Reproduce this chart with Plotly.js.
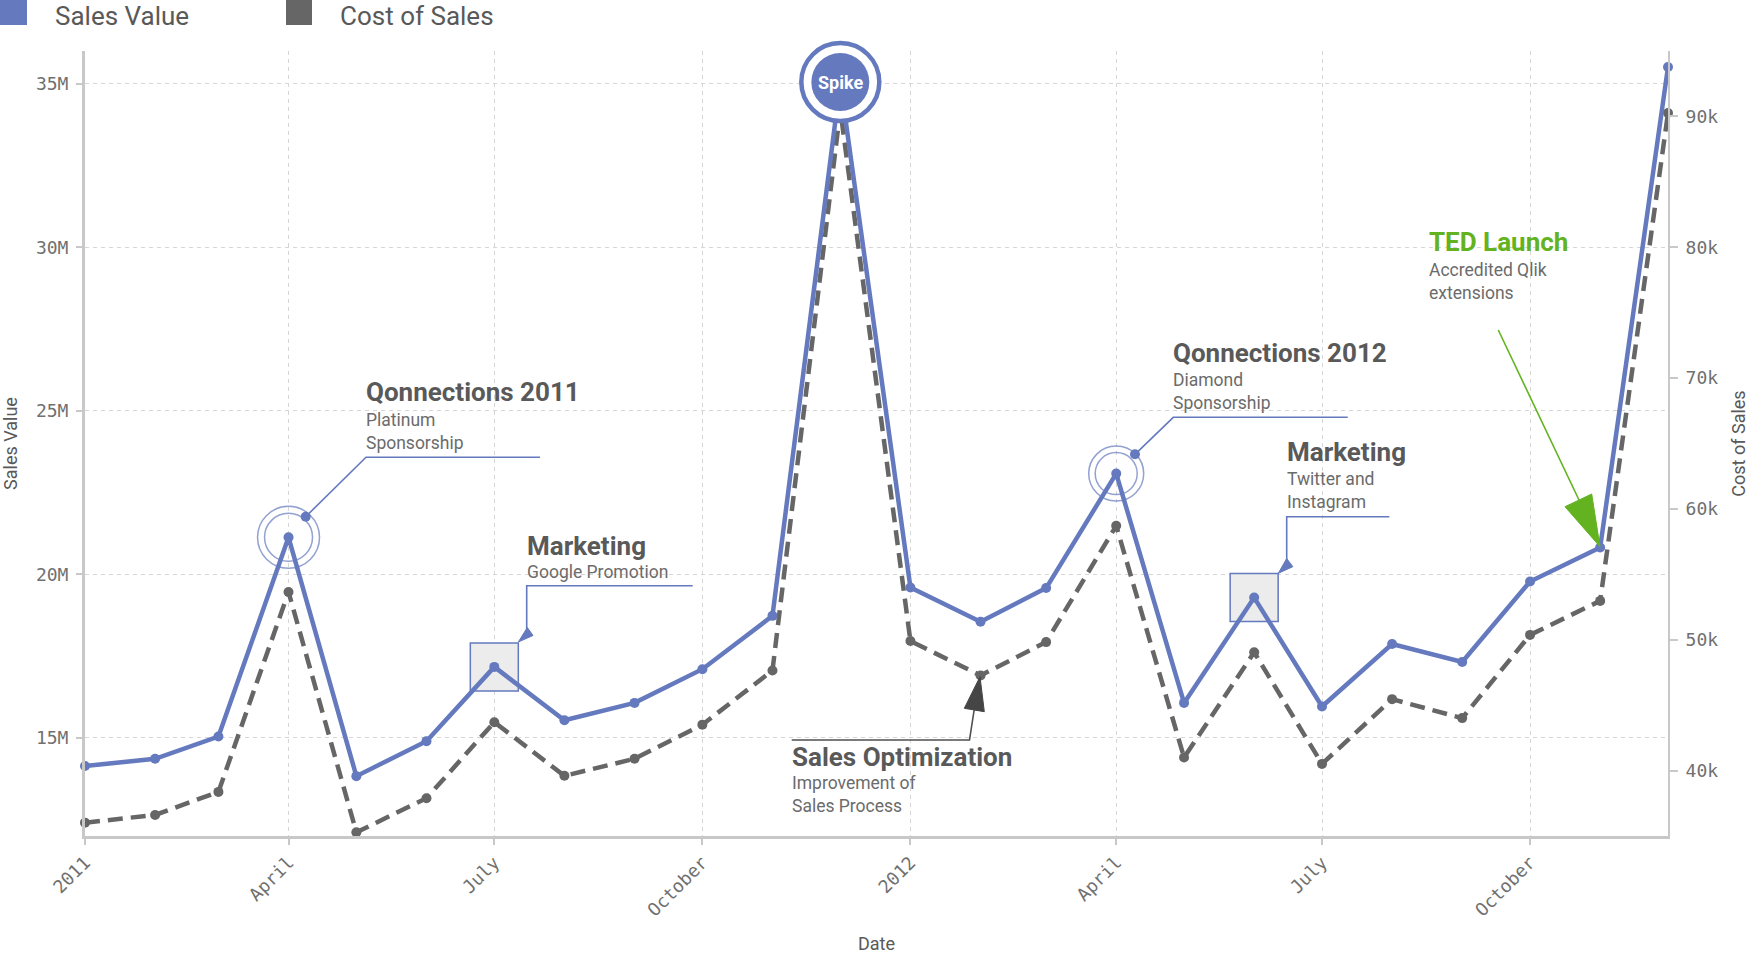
<!DOCTYPE html>
<html>
<head>
<meta charset="UTF-8">
<title>Sales Value and Cost of Sales</title>
<script src="https://cdn.plot.ly/plotly-3.0.1.min.js"></script>
<style>
  body { margin: 0; background: #ffffff; }
  #chart { width: 1749px; height: 954px; }
</style>
</head>
<body>
<div id="chart"></div>
<script>
// monthly data, Jan 2011 .. Dec 2012
var months = [
  '2011-01-01', '2011-02-01', '2011-03-01', '2011-04-01', '2011-05-01', '2011-06-01',
  '2011-07-01', '2011-08-01', '2011-09-01', '2011-10-01', '2011-11-01', '2011-12-01',
  '2012-01-01', '2012-02-01', '2012-03-01', '2012-04-01', '2012-05-01', '2012-06-01',
  '2012-07-01', '2012-08-01', '2012-09-01', '2012-10-01', '2012-11-01', '2012-12-01'
];
var salesValue = [
  14.14e6, 14.36e6, 15.04e6, 21.13e6, 13.83e6, 14.90e6,
  17.17e6, 15.54e6, 16.07e6, 17.10e6, 18.73e6, 35.05e6,
  19.60e6, 18.55e6, 19.58e6, 23.08e6, 16.07e6, 19.29e6,
  15.96e6, 17.87e6, 17.32e6, 19.78e6, 20.82e6, 35.51e6
];
var costOfSales = [
  36020, 36610, 38370, 53650, 35280, 37890,
  43700, 39600, 40900, 43510, 47650, 90500,
  49900, 47270, 49820, 58710, 41000, 49040,
  40510, 45460, 44010, 50370, 52970, 90260
];

var quarterTicks = ['2011-01-01', '2011-04-01', '2011-07-01', '2011-10-01',
                    '2012-01-01', '2012-04-01', '2012-07-01', '2012-10-01'];
var quarterLabels = ['2011', 'April', 'July', 'October', '2012', 'April', 'July', 'October'];
var salesTicks = [15e6, 20e6, 25e6, 30e6, 35e6];
var salesTickLabels = ['15M', '20M', '25M', '30M', '35M'];
var costTicks = [40000, 50000, 60000, 70000, 80000, 90000];
var costTickLabels = ['40k', '50k', '60k', '70k', '80k', '90k'];

// month index of each highlighted event
var qonn2011 = 3, mkt2011 = 6, spike = 11, salesOpt = 13, qonn2012 = 15, mkt2012 = 17, ted = 22;

var blue = '#6479be';
var gray = '#666666';
var green = '#63b321';
var titleGray = '#595959';
var textGray = '#6b6b6b';
var axisGray = '#c8c8c8';

// page geometry, used to place callouts in pixels
var W = 1749, H = 954;
var M = { l: 85, r: 81, t: 51, b: 118 };
function px(x) { return (x - M.l) / (W - M.l - M.r); }
function py(y) { return (H - M.b - y) / (H - M.t - M.b); }
function path(pts) {
  return pts.map(function (p, i) { return (i ? 'L' : 'M') + px(p[0]) + ',' + py(p[1]); }).join(' ');
}
function poly(pts, color) {
  return { type: 'path', xref: 'paper', yref: 'paper', path: path(pts) + ' Z',
           fillcolor: color, line: { color: color, width: 1 } };
}
function polyline(pts, color) {
  return { type: 'path', xref: 'paper', yref: 'paper', path: path(pts),
           line: { color: color, width: 1.6 } };
}
function dot(x, y, r, color) {
  return { type: 'circle', xref: 'paper', yref: 'paper',
           x0: px(x - r), x1: px(x + r), y0: py(y + r), y1: py(y - r),
           fillcolor: color, line: { width: 0 } };
}
function rect(x0, y0, x1, y1, color) {
  return { type: 'rect', xref: 'paper', yref: 'paper',
           x0: px(x0), x1: px(x1), y0: py(y1), y1: py(y0),
           fillcolor: color, line: { width: 0 } };
}
// text block: x = left edge, b = baseline of first line
function label(x, b, text, size, color, bold) {
  var lines = text.split('<br>').length;
  return {
    xref: 'paper', yref: 'paper', x: px(x - 2), y: py(b - 0.36 * size + (lines - 1) * 0.65 * size),
    xanchor: 'left', yanchor: 'middle', align: 'left', showarrow: false,
    text: bold ? '<b>' + text + '</b>' : text,
    font: { family: 'Roboto, sans-serif', size: size, color: color }
  };
}

var traces = [
  {
    x: months, y: costOfSales, name: 'Cost of Sales', yaxis: 'y',
    type: 'scatter', mode: 'lines+markers', cliponaxis: false,
    line: { color: gray, width: 4.5, dash: '15px,8px' },
    marker: { color: gray, size: 10 }
  },
  {
    x: [months[mkt2011], months[mkt2012]], y: [salesValue[mkt2011], salesValue[mkt2012]],
    yaxis: 'y2', type: 'scatter', mode: 'markers', hoverinfo: 'skip',
    marker: { symbol: 'square', size: 48, color: '#ececec', line: { color: blue, width: 1.5 } }
  },
  {
    x: months, y: salesValue, name: 'Sales Value', yaxis: 'y2',
    type: 'scatter', mode: 'lines+markers', cliponaxis: false,
    line: { color: blue, width: 4.5 },
    marker: { color: blue, size: 10 }
  },
  {
    x: [months[qonn2011], months[qonn2011], months[qonn2012], months[qonn2012]],
    y: [salesValue[qonn2011], salesValue[qonn2011], salesValue[qonn2012], salesValue[qonn2012]],
    yaxis: 'y2', type: 'scatter', mode: 'markers', hoverinfo: 'skip',
    marker: { symbol: 'circle-open', size: [62, 48, 55, 42], color: blue, line: { width: 1.5 } }
  },
  {
    x: [months[spike]], y: [salesValue[spike]], yaxis: 'y2',
    type: 'scatter', mode: 'markers', hoverinfo: 'skip', cliponaxis: false,
    marker: { size: 78, color: '#ffffff', line: { color: blue, width: 4.5 } }
  },
  {
    x: [months[spike]], y: [salesValue[spike]], yaxis: 'y2',
    type: 'scatter', mode: 'markers', hoverinfo: 'skip', cliponaxis: false,
    marker: { size: 58, color: blue, line: { width: 0 } }
  }
];

var shapes = [
  // legend swatches
  rect(0, -4, 27, 25, blue),
  rect(286, -4, 312, 25, gray),
  // Qonnections 2011
  polyline([[305.7, 516.7], [366, 457.3], [540, 457.3]], blue),
  dot(305.7, 516.7, 5, blue),
  // Marketing 2011
  polyline([[692.7, 585.7], [526.7, 585.7], [526.7, 630]], blue),
  poly([[527.3, 627.5], [533, 635.5], [518.3, 642]], blue),
  // Sales Optimization
  polyline([[791.7, 740], [969.5, 740], [974.3, 709]], '#505050'),
  poly([[964.3, 708.3], [984.3, 711.7], [980, 676.7]], '#454545'),
  // Qonnections 2012
  polyline([[1135, 454.3], [1173.3, 417.3], [1347.7, 417.3]], blue),
  dot(1135, 454.3, 5, blue),
  // Marketing 2012
  polyline([[1389.3, 516.7], [1286.7, 516.7], [1286.7, 560]], blue),
  poly([[1286.7, 558.5], [1292.8, 566.7], [1278.3, 573.3]], blue),
  // TED Launch
  polyline([[1498.3, 330], [1579, 500]], green),
  poly([[1565, 506.7], [1591.7, 494], [1600, 546.7]], green)
];

var annotations = [
  label(54.7, 25, 'Sales Value', 26, titleGray, false),
  label(340, 25, 'Cost of Sales', 26, titleGray, false),

  label(366, 401, 'Qonnections 2011', 26, titleGray, true),
  label(366, 426, 'Platinum<br>Sponsorship', 17.5, textGray, false),

  label(526.5, 555, 'Marketing', 26, titleGray, true),
  label(526.5, 578, 'Google Promotion', 17.5, textGray, false),

  label(791.7, 766, 'Sales Optimization', 26, titleGray, true),
  label(791.7, 789.3, 'Improvement of<br>Sales Process', 17.5, textGray, false),

  label(1173.3, 362.3, 'Qonnections 2012', 26, titleGray, true),
  label(1173.3, 386, 'Diamond<br>Sponsorship', 17.5, textGray, false),

  label(1287.3, 461, 'Marketing', 26, titleGray, true),
  label(1287.3, 485, 'Twitter and<br>Instagram', 17.5, textGray, false),

  label(1429.3, 251.7, 'TED Launch', 26, green, true),
  label(1429.3, 276, 'Accredited Qlik<br>extensions', 17.5, textGray, false),

  {
    x: months[spike], y: salesValue[spike], xref: 'x', yref: 'y2', showarrow: false,
    text: '<b>Spike</b>', font: { family: 'Roboto, sans-serif', size: 18, color: '#ffffff' }
  }
];

var tickFont = { family: 'DejaVu Sans Mono, monospace', size: 18, color: '#707070' };
var titleFont = { family: 'Roboto, sans-serif', size: 18, color: titleGray };

var layout = {
  width: W, height: H,
  margin: M,
  paper_bgcolor: '#ffffff', plot_bgcolor: '#ffffff',
  showlegend: false,
  hovermode: false,
  xaxis: {
    type: 'date', range: [months[0], months[months.length - 1]],
    tickmode: 'array', tickvals: quarterTicks, ticktext: quarterLabels, tickangle: -45,
    tickfont: tickFont,
    showline: true, linecolor: axisGray, linewidth: 3,
    ticks: 'outside', ticklen: 6, tickwidth: 2, tickcolor: axisGray,
    showgrid: true, gridcolor: '#d6d6d6', gridwidth: 1, griddash: '4px,4px',
    zeroline: false,
    title: { text: 'Date', font: titleFont, standoff: 30 }
  },
  yaxis: {
    side: 'right', range: [35000, 95000],
    tickmode: 'array', tickvals: costTicks, ticktext: costTickLabels,
    tickfont: tickFont,
    showline: true, linecolor: axisGray, linewidth: 2,
    ticks: 'outside', ticklen: 8, tickwidth: 2, tickcolor: axisGray,
    ticklabelstandoff: 4,
    showgrid: false, zeroline: false,
    title: { text: 'Cost of Sales', font: titleFont, standoff: 16 }
  },
  yaxis2: {
    overlaying: 'y', side: 'left', range: [12e6, 36e6],
    tickmode: 'array', tickvals: salesTicks, ticktext: salesTickLabels,
    tickfont: tickFont,
    showline: true, linecolor: axisGray, linewidth: 3,
    ticks: 'outside', ticklen: 6, tickwidth: 2, tickcolor: axisGray,
    ticklabelstandoff: 4,
    showgrid: true, gridcolor: '#d6d6d6', gridwidth: 1, griddash: '4px,4px',
    zeroline: false,
    title: { text: 'Sales Value', font: titleFont, standoff: 15 }
  },
  shapes: shapes,
  annotations: annotations
};

Plotly.newPlot('chart', traces, layout, { displayModeBar: false, staticPlot: true });
</script>
</body>
</html>
